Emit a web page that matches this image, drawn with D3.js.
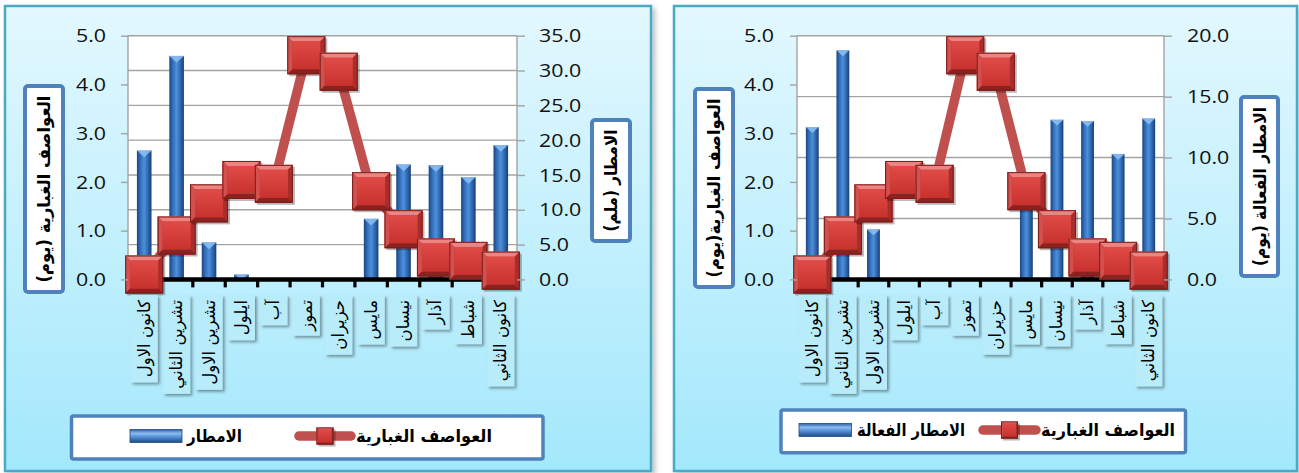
<!DOCTYPE html>
<html>
<head>
<meta charset="utf-8">
<script src="https://cdn.jsdelivr.net/npm/d3@7"></script>
<style>
  html, body { margin: 0; padding: 0; background: #ffffff; }
  svg { display: block; }
</style>
</head>
<body>
<svg id="chart" width="1299" height="473"></svg>
<script>
// Months as they run along the category axis, left to right
const months = ["كانون الاول", "تشرين الثاني", "تشرين الاول", "ايلول", "آب", "تموز",
                "حزيران", "مايس", "نيسان", "آذار", "شباط", "كانون الثاني"];
// Dust storms (days)
const dustStormDays = [0.10, 0.90, 1.56, 2.04, 1.96, 4.60, 4.26, 1.81, 1.03, 0.45, 0.38, 0.18];
// Rainfall (mm)
const rainfallMm = [18.5, 32.1, 5.3, 0.7, 0, 0, 0, 8.7, 16.5, 16.4, 14.7, 19.3];
// Effective rainfall (days)
const effectiveRainDays = [12.5, 18.8, 4.1, 0, 0, 0, 0, 7.0, 13.1, 13.0, 10.3, 13.2];

// Axis tick values
const dustTicks = [0, 1, 2, 3, 4, 5];
const rainTicks = [0, 5, 10, 15, 20, 25, 30, 35];
const effectiveRainTicks = [0, 5, 10, 15, 20];

const ARABIC_FONT = "'DejaVu Sans', 'Noto Sans', sans-serif";
const NUM_FONT = "'Open Sans', 'Liberation Sans', sans-serif";
const fmt = d3.format(".1f");

const svg = d3.select("#chart");
const defs = svg.append("defs");

// ---------- shared paint servers ----------
const panelGrad = defs.append("linearGradient").attr("id", "panelBg")
  .attr("x1", 0).attr("y1", 0).attr("x2", 0).attr("y2", 1);
panelGrad.append("stop").attr("offset", 0).attr("stop-color", "#e3f8fe");
panelGrad.append("stop").attr("offset", 1).attr("stop-color", "#a3e8fc");

const barGrad = defs.append("linearGradient").attr("id", "barFill")
  .attr("x1", 0).attr("y1", 0).attr("x2", 1).attr("y2", 0);
[[0, "#1a467f"], [0.25, "#3370bd"], [0.5, "#4f8fd9"], [0.75, "#2f69b2"], [1, "#193f75"]]
  .forEach(([o, c]) => barGrad.append("stop").attr("offset", o).attr("stop-color", c));

const legBarGrad = defs.append("linearGradient").attr("id", "legBarFill")
  .attr("x1", 0).attr("y1", 0).attr("x2", 0).attr("y2", 1);
[[0, "#2a62aa"], [0.3, "#8dbbf0"], [0.55, "#5a93d8"], [1, "#1d4b88"]]
  .forEach(([o, c]) => legBarGrad.append("stop").attr("offset", o).attr("stop-color", c));

const faceGrad = defs.append("linearGradient").attr("id", "markerFace")
  .attr("x1", 0).attr("y1", 0).attr("x2", 0).attr("y2", 1);
faceGrad.append("stop").attr("offset", 0).attr("stop-color", "#e04a47");
faceGrad.append("stop").attr("offset", 1).attr("stop-color", "#c7322f");

const shadow = defs.append("filter").attr("id", "softShadow")
  .attr("x", "-20%").attr("y", "-20%").attr("width", "150%").attr("height", "150%");
shadow.append("feDropShadow").attr("dx", 2).attr("dy", 2).attr("stdDeviation", 1.5)
  .attr("flood-color", "#000").attr("flood-opacity", 0.4);

const panelShadow = defs.append("filter").attr("id", "panelShadow")
  .attr("x", "-5%").attr("y", "-5%").attr("width", "110%").attr("height", "110%");
panelShadow.append("feDropShadow").attr("dx", 3).attr("dy", 3).attr("stdDeviation", 2.5)
  .attr("flood-color", "#000").attr("flood-opacity", 0.25);

// Bevelled square marker centred at (0,0)
function drawMarker(sel, s) {
  const h = s / 2, b = Math.round(s * 0.13);
  sel.append("rect").attr("x", -h + 2).attr("y", -h + 2).attr("width", s).attr("height", s)
    .attr("fill", "rgba(0,0,0,0.28)");
  sel.append("rect").attr("x", -h).attr("y", -h).attr("width", s).attr("height", s)
    .attr("fill", "#b83431");
  const poly = (pts, fill) => sel.append("polygon")
    .attr("points", pts.map(p => p.join(",")).join(" ")).attr("fill", fill);
  poly([[-h, -h], [h, -h], [h - b, -h + b], [-h + b, -h + b]], "#ec8582");
  poly([[-h, -h], [-h + b, -h + b], [-h + b, h - b], [-h, h]], "#d2504d");
  poly([[h, -h], [h, h], [h - b, h - b], [h - b, -h + b]], "#a92d2a");
  poly([[-h, h], [h, h], [h - b, h - b], [-h + b, h - b]], "#8a2220");
  sel.append("rect").attr("x", -h + b).attr("y", -h + b)
    .attr("width", s - 2 * b).attr("height", s - 2 * b).attr("fill", "url(#markerFace)");
  sel.append("rect").attr("x", -h + 0.5).attr("y", -h + 0.5).attr("width", s - 1).attr("height", s - 1)
    .attr("fill", "none").attr("stroke", "#7a1d1b").attr("stroke-width", 1);
}

function stretchNumbers(sel, k) {
  sel.each(function () {
    const w = this.getComputedTextLength();
    d3.select(this).attr("textLength", w * k).attr("lengthAdjust", "spacingAndGlyphs");
  });
}

function drawChart(cfg) {
  const g = svg.append("g");
  const p = cfg.plot;

  // panel
  g.append("rect")
    .attr("x", cfg.panel.x).attr("y", cfg.panel.y)
    .attr("width", cfg.panel.w).attr("height", cfg.panel.h)
    .attr("fill", "url(#panelBg)").attr("stroke", "#4aaac6").attr("stroke-width", 2.5)
    .attr("filter", "url(#panelShadow)");

  const x = d3.scaleBand().domain(months).range([p.x0, p.x1]);
  const yL = d3.scaleLinear().domain([0, 5]).range([p.y1, p.y0]);
  const yR = d3.scaleLinear().domain([0, cfg.rightMax]).range([p.y1, p.y0]);

  // plot area
  g.append("rect").attr("x", p.x0).attr("y", p.y0)
    .attr("width", p.x1 - p.x0).attr("height", p.y1 - p.y0).attr("fill", "#ffffff");

  // horizontal gridlines follow the right-hand axis
  g.append("g").selectAll("line").data(cfg.rightTicks.filter(d => d > 0)).join("line")
    .attr("x1", p.x0).attr("x2", p.x1)
    .attr("y1", d => yR(d)).attr("y2", d => yR(d))
    .attr("stroke", "#a3a3a3").attr("stroke-width", 1.4);

  // plot side borders
  g.append("g").selectAll("line").data([p.x0, p.x1]).join("line")
    .attr("x1", d => d).attr("x2", d => d).attr("y1", p.y0).attr("y2", p.y1)
    .attr("stroke", "#a3a3a3").attr("stroke-width", 1.4);

  // bars
  const bw = x.bandwidth() * cfg.barRatio;
  const bars = g.append("g").selectAll("g").data(months.map((m, i) => ({ m, v: cfg.bars[i] })))
    .join("g").filter(d => d.v > 0);
  bars.append("rect")
    .attr("x", d => x(d.m) + (x.bandwidth() - bw) / 2)
    .attr("y", d => yR(d.v))
    .attr("width", bw)
    .attr("height", d => yR(0) - yR(d.v))
    .attr("fill", "url(#barFill)");
  bars.append("polygon")
    .attr("points", d => {
      const x0 = x(d.m) + (x.bandwidth() - bw) / 2, t = yR(d.v);
      const tip = Math.min(bw / 2.2, yR(0) - t);
      return `${x0},${t} ${x0 + bw},${t} ${x0 + bw / 2},${t + tip}`;
    })
    .attr("fill", "#8ec0f2").attr("opacity", 0.85);

  // category axis
  g.append("line").attr("x1", p.x0).attr("x2", p.x1).attr("y1", p.y1).attr("y2", p.y1)
    .attr("stroke", "#000").attr("stroke-width", 4.5);
  g.append("g").selectAll("line").data(d3.range(months.length + 1)).join("line")
    .attr("x1", i => p.x0 + i * x.step()).attr("x2", i => p.x0 + i * x.step())
    .attr("y1", p.y1).attr("y2", p.y1 + 8)
    .attr("stroke", "#000").attr("stroke-width", 3.2);

  // dust storm line
  const line = d3.line().x((d, i) => x(months[i]) + x.bandwidth() / 2).y(d => yL(d));
  g.append("path").datum(dustStormDays).attr("d", line)
    .attr("fill", "none").attr("stroke", "#c0504d").attr("stroke-width", 9.5)
    .attr("stroke-linejoin", "round");

  // markers
  g.append("g").selectAll("g").data(dustStormDays).join("g")
    .attr("transform", (d, i) => `translate(${x(months[i]) + x.bandwidth() / 2},${yL(d)})`)
    .each(function () { drawMarker(d3.select(this), 38); });

  // value axes
  const axL = g.append("g").attr("transform", `translate(${p.x0},0)`)
    .call(d3.axisLeft(yL).tickValues(dustTicks).tickFormat(fmt).tickSize(7).tickPadding(cfg.padL));
  const axR = g.append("g").attr("transform", `translate(${p.x1},0)`)
    .call(d3.axisRight(yR).tickValues(cfg.rightTicks).tickFormat(fmt).tickSize(8).tickPadding(cfg.padR));
  [axL, axR].forEach(ax => {
    ax.select(".domain").remove();
    ax.selectAll(".tick line").attr("stroke", "#a3a3a3").attr("stroke-width", 1.4);
    ax.selectAll(".tick text").attr("font-family", NUM_FONT).attr("font-size", 17.5)
      .attr("fill", "#111").attr("dy", "0.35em");
    stretchNumbers(ax.selectAll(".tick text"), 1.22);
  });

  // category labels in small boxes, written vertically
  const pad = 5;
  const lab = g.append("g").selectAll("g").data(months).join("g")
    .attr("transform", d => `translate(${x(d) + x.bandwidth() / 2},${cfg.labelTop})`);
  lab.each(function (d) {
    const s = d3.select(this);
    const t = s.append("text")
      .attr("transform", "rotate(-90)")
      .attr("x", -pad).attr("y", 0)
      .attr("text-anchor", "end").attr("dominant-baseline", "central")
      .attr("font-family", ARABIC_FONT).attr("font-size", 16.5).attr("fill", "#000")
      .text(d);
    const len = t.node().getComputedTextLength();
    s.insert("rect", "text")
      .attr("x", -13.5).attr("y", 0).attr("width", 27).attr("height", len + 2 * pad)
      .attr("fill", "#b8ecfa").attr("filter", "url(#softShadow)");
  });

  // axis titles
  [cfg.titleL, cfg.titleR].forEach(tt => {
    g.append("rect").attr("x", tt.x).attr("y", tt.y).attr("width", tt.w).attr("height", tt.h)
      .attr("rx", 3).attr("fill", "#ffffff").attr("stroke", "#4f81bd").attr("stroke-width", 4);
    g.append("text")
      .attr("transform", `translate(${tt.x + tt.w / 2},${tt.y + tt.h / 2}) rotate(-90)`)
      .attr("text-anchor", "middle").attr("dominant-baseline", "central")
      .attr("font-family", ARABIC_FONT).attr("font-weight", "bold").attr("font-size", 17)
      .attr("textLength", tt.len).attr("lengthAdjust", "spacingAndGlyphs")
      .attr("fill", "#000").text(tt.text);
  });

  // legend
  const L = cfg.legend;
  g.append("rect").attr("x", L.x).attr("y", L.y).attr("width", L.w).attr("height", L.h)
    .attr("rx", 2).attr("fill", "#ffffff").attr("stroke", "#4f81bd").attr("stroke-width", 3.5);
  const legText = (xEnd, len, txt) => g.append("text")
    .attr("x", xEnd).attr("y", L.cy).attr("text-anchor", "end").attr("dominant-baseline", "central")
    .attr("font-family", ARABIC_FONT).attr("font-weight", "bold").attr("font-size", 17)
    .attr("textLength", len).attr("lengthAdjust", "spacingAndGlyphs")
    .attr("fill", "#000").text(txt);
  legText(L.t1End, L.t1Len, "العواصف الغبارية");
  g.append("line").attr("x1", L.lineX0 + 5).attr("x2", L.lineX1 - 5)
    .attr("y1", L.cy).attr("y2", L.cy)
    .attr("stroke", "#c0504d").attr("stroke-width", 9.5).attr("stroke-linecap", "round");
  drawMarker(g.append("g").attr("transform", `translate(${(L.lineX0 + L.lineX1) / 2},${L.cy})`), 17);
  legText(L.t2End, L.t2Len, L.label2);
  g.append("rect").attr("x", L.barX0).attr("y", L.cy - 6.5).attr("width", L.barX1 - L.barX0).attr("height", 13)
    .attr("fill", "url(#legBarFill)").attr("stroke", "#1d4b88").attr("stroke-width", 0.8);
}

drawChart({
  panel: { x: 5, y: 6, w: 646, h: 465 },
  plot: { x0: 128, x1: 517, y0: 35.7, y1: 279.4 },
  rightMax: 35, rightTicks: rainTicks, bars: rainfallMm, barRatio: 0.45,
  padL: 15, padR: 14,
  labelTop: 295,
  titleL: { x: 25, y: 86, w: 38, h: 206, text: "العواصف الغبارية (يوم)", len: 187 },
  titleR: { x: 592, y: 120, w: 38, h: 121, text: "الامطار (ملم)", len: 102 },
  legend: { x: 71.5, y: 416, w: 471.5, h: 43, cy: 436,
            t1End: 492, t1Len: 136, lineX0: 294, lineX1: 356,
            t2End: 242, t2Len: 55, barX0: 130, barX1: 182, label2: "الامطار" }
});

drawChart({
  panel: { x: 674, y: 6, w: 623, h: 465 },
  plot: { x0: 797, x1: 1164, y0: 35.7, y1: 279.4 },
  rightMax: 20, rightTicks: effectiveRainTicks, bars: effectiveRainDays, barRatio: 0.42,
  padL: 16, padR: 15,
  labelTop: 295,
  titleL: { x: 695, y: 89, w: 38, h: 198, text: "العواصف الغبارية(يوم)", len: 179 },
  titleR: { x: 1241, y: 97, w: 37, h: 179, text: "الامطار الفعالة (يوم)", len: 159 },
  legend: { x: 781, y: 410, w: 404.5, h: 42.7, cy: 430,
            t1End: 1175, t1Len: 134, lineX0: 978, lineX1: 1041,
            t2End: 965, t2Len: 108, barX0: 799, barX1: 851.5, label2: "الامطار الفعالة" }
});
</script>
</body>
</html>
